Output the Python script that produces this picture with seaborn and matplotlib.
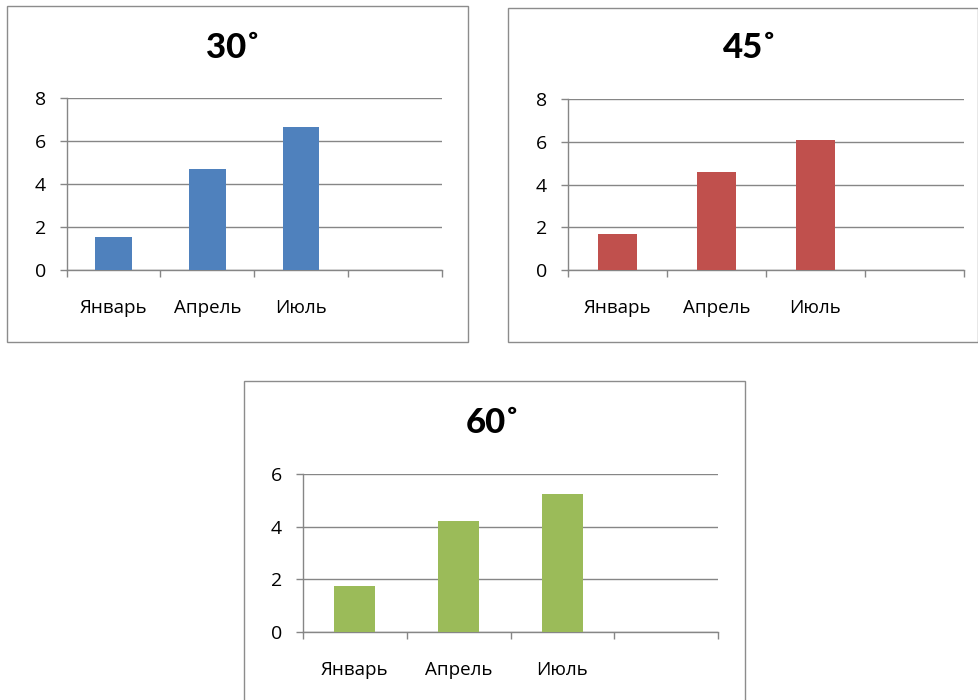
import matplotlib
matplotlib.use("Agg")
import matplotlib.pyplot as plt
import seaborn as sns
import pandas as pd
from matplotlib.patches import Rectangle

# ---- data ----
months = ["Январь", "Апрель", "Июль"]
values_30 = [1.55, 4.72, 6.65]
values_45 = [1.70, 4.58, 6.10]
values_60 = [1.75, 4.22, 5.25]
titles = ["30˚", "45˚", "60˚"]
ymax = [8, 8, 6]

sns.set_style("white")
plt.rcParams['font.family'] = ['Open Sans', 'DejaVu Sans']
plt.rcParams['text.color'] = 'black'
plt.rcParams['xtick.color'] = 'black'
plt.rcParams['ytick.color'] = 'black'

W, H = 979, 700
fig = plt.figure(figsize=(W / 100, H / 100), dpi=100)

def fx(x):
    return x / W

def fy(y):
    return 1 - y / H

panels = [
    ((66.7, 441.7, 98.3, 270.0), (7.5, 468.0, 6.0, 342.0), (233, 48), "#4F81BD", values_30),
    ((567.7, 964.0, 99.0, 270.0), (508.5, 978.0, 8.0, 342.0), (750, 48), "#C0504D", values_45),
    ((302.7, 718.3, 474.3, 631.7), (244.5, 745.0, 381.5, 720.0), (493, 423), "#9BBB59", values_60),
]

grid_col = "#868686"

for i, (axp, boxp, tpos, col, vals) in enumerate(panels):
    bx0, bx1, by0, by1 = boxp
    fig.patches.append(Rectangle((fx(bx0), fy(by1)), fx(bx1 - bx0), (by1 - by0) / H,
                                 transform=fig.transFigure, fill=False,
                                 edgecolor="#8c8c8c", linewidth=1.0, zorder=0))
    x0, x1, yt, yb = axp
    ax = fig.add_axes([fx(x0), fy(yb), fx(x1 - x0), (yb - yt) / H])
    df = pd.DataFrame({"month": months, "value": vals})
    sns.barplot(data=df, x="month", y="value", color=col, width=0.39,
                saturation=1, linewidth=0, ax=ax, zorder=3)
    ax.set_xlim(-0.5, 3.5)
    ax.set_ylim(0, ymax[i])
    ax.set_yticks(range(0, ymax[i] + 1, 2))
    ax.set_xticks([0, 1, 2])
    ax.set_xticklabels(months)
    ax.set_xticks([-0.5, 0.5, 1.5, 2.5, 3.5], minor=True)
    ax.tick_params(axis="x", which="major", length=0, pad=21, labelsize=13.5,
                   labelcolor="black")
    ax.tick_params(axis="x", which="minor", length=5, width=1, color=grid_col,
                   direction="out", bottom=True)
    ax.tick_params(axis="y", which="major", length=5, width=1, color=grid_col,
                   direction="out", pad=10, labelsize=14, left=True,
                   labelcolor="black")
    ax.set_xlabel("")
    ax.set_ylabel("")
    ax.grid(axis="y", color=grid_col, linewidth=1.0, zorder=1)
    ax.set_axisbelow(True)
    for s in ["top", "right"]:
        ax.spines[s].set_visible(False)
    for s in ["left", "bottom"]:
        ax.spines[s].set_color(grid_col)
        ax.spines[s].set_linewidth(1.0)
    fig.text(fx(tpos[0]), fy(tpos[1]), titles[i], ha="center", va="center",
             fontsize=25, fontweight=900, color="black",
             family=['Lato', 'DejaVu Sans'])

fig.savefig("out.png", dpi=100)
